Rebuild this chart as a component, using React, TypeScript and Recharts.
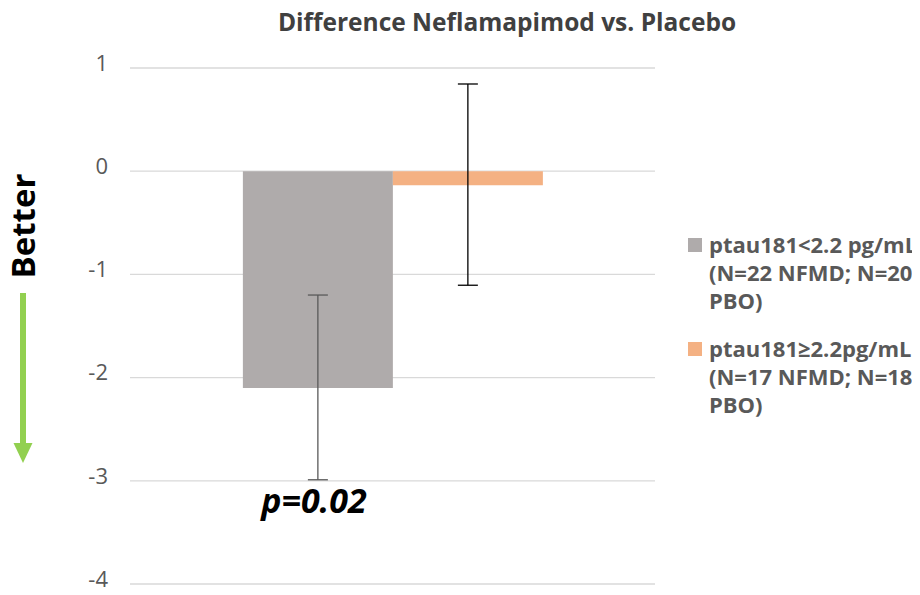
import React from 'react';
import { BarChart, Bar, XAxis, YAxis, CartesianGrid, ErrorBar, ReferenceDot } from 'recharts';

const categories = ['Difference'];
const lowPtauValues = [-2.1];
const lowPtauErrors = [[0.89, 0.9]];
const highPtauValues = [-0.135];
const highPtauErrors = [[0.97, 0.98]];
const yTicks = [1, 0, -1, -2, -3, -4];
const legendLabels = [
  ['ptau181<2.2 pg/mL', '(N=22 NFMD; N=20', 'PBO)'],
  ['ptau181\u22652.2pg/mL', '(N=17 NFMD; N=18', 'PBO)'],
];
const legendColors = ['#afabab', '#f4b183'];

const data = categories.map((name, i) => ({
  name,
  low: lowPtauValues[i],
  lowErr: lowPtauErrors[i],
  high: highPtauValues[i],
  highErr: highPtauErrors[i],
}));

const font = '"Open Sans", sans-serif';

const App: React.FC = () => {
  return (
    <div style={{ position: 'relative', width: 920, height: 595, margin: -8, background: '#fff', fontFamily: font, overflow: 'hidden' }}>
      {/* Title */}
      <div style={{ position: 'absolute', left: 0, top: 5, width: 1014, textAlign: 'center', fontSize: 24.5, fontWeight: 700, color: '#404040', lineHeight: '34px' }}>
        Difference Neflamapimod vs. Placebo
      </div>

      <BarChart
        width={920}
        height={595}
        data={data}
        margin={{ top: 68, right: 265, bottom: 11, left: 70 }}
        barCategoryGap="21.5%"
        barGap={0}
      >
        <CartesianGrid vertical={false} stroke="#d9d9d9" strokeWidth={1.3} />
        <XAxis dataKey="name" hide />
        <YAxis
          width={60}
          domain={[-4, 1]}
          ticks={yTicks}
          interval={0}
          axisLine={false}
          tickLine={false}
          tickSize={0}
          tickMargin={22}
          tick={{ fill: '#595959', fontSize: 22, fontFamily: font, dy: -5 }}
        />
        <Bar dataKey="low" fill="#afabab" isAnimationActive={false}>
          <ErrorBar dataKey="lowErr" width={10} stroke="#595959" strokeWidth={1.3} />
        </Bar>
        <Bar dataKey="high" fill="#f4b183" isAnimationActive={false}>
          <ErrorBar dataKey="highErr" width={10} stroke="#000" strokeWidth={1.3} />
        </Bar>
        <ReferenceDot
          x="Difference"
          y={-3.2}
          r={0}
          ifOverflow="visible"
          label={(props: any) => {
            const vb = props.viewBox || {};
            return (
              <text
                x={314}
                y={(vb.y ?? 500) + 2}
                textAnchor="middle"
                dominantBaseline="middle"
                fontSize={34}
                fontWeight={700}
                fontStyle="italic"
                fontFamily={font}
                fill="#000"
              >
                p=0.02
              </text>
            );
          }}
        />
      </BarChart>

      {/* Better arrow */}
      <svg style={{ position: 'absolute', left: 0, top: 0 }} width={60} height={595}>
        <text
          transform="translate(35,226) rotate(-90)"
          textAnchor="middle"
          fontSize={33}
          fontWeight={700}
          fontFamily={font}
          fill="#000"
        >
          Better
        </text>
        <line x1={23} y1={293} x2={23} y2={445} stroke="#92d050" strokeWidth={6} />
        <polygon points="13.5,443 32.5,443 23,463" fill="#92d050" />
      </svg>

      {/* Legend */}
      <div style={{ position: 'absolute', left: 688, top: 230, color: '#595959', fontSize: 22, fontWeight: 700, lineHeight: '28px' }}>
        {legendLabels.map((lines, i) => (
          <div key={i} style={{ display: 'flex', marginBottom: 20 }}>
            <div style={{ width: 14, height: 14, background: legendColors[i], marginTop: 8, marginRight: 7, flexShrink: 0 }} />
            <div>
              {lines.map((l, j) => (
                <div key={j} style={{ whiteSpace: 'nowrap' }}>{l}</div>
              ))}
            </div>
          </div>
        ))}
      </div>
    </div>
  );
};

export default App;
